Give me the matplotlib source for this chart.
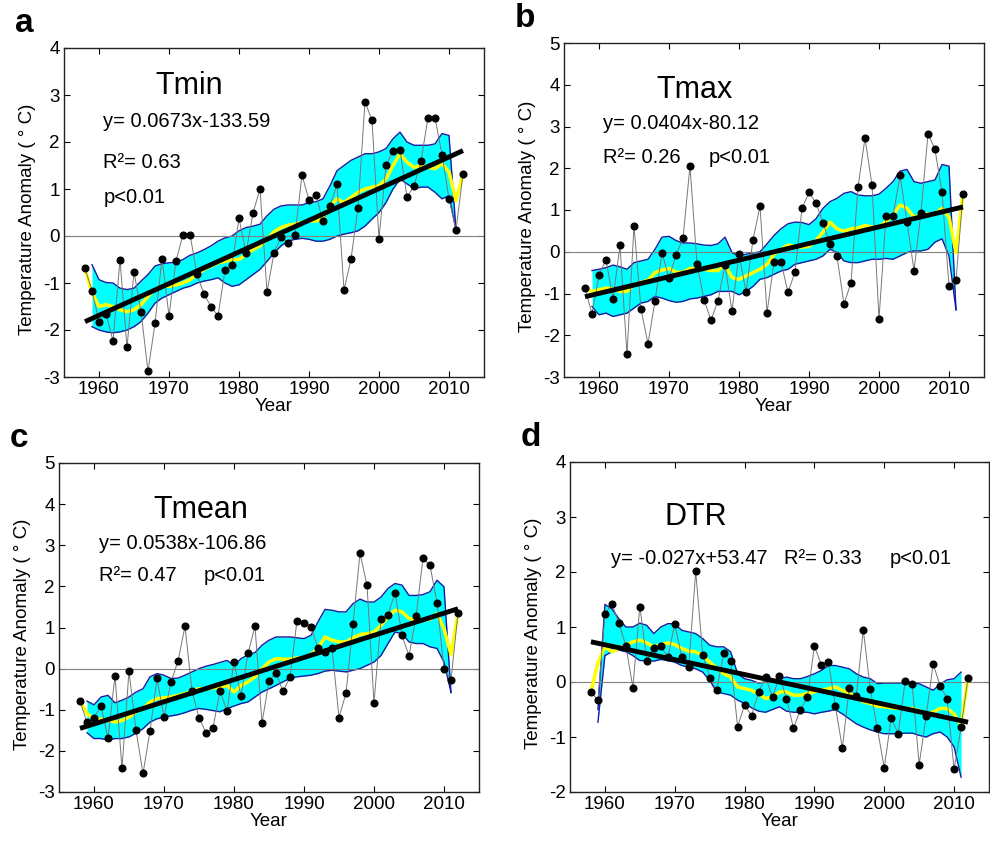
import numpy as np
import matplotlib
matplotlib.use("Agg")
import matplotlib.pyplot as plt

plt.rcParams['font.family'] = ['Liberation Sans', 'DejaVu Sans']
plt.rcParams['axes.unicode_minus'] = False

years = np.arange(1958, 2013)          # data points and yellow smooth
band_years = np.arange(1959, 2012)     # cyan envelope

# ---- Tmin ----
tmin = [-0.69, -1.16, -1.82, -1.66, -2.23, -0.51, -2.37, -0.76, -1.61, -2.88,
        -1.86, -0.48, -1.70, -0.53, 0.03, 0.03, -0.81, -1.24, -1.50, -1.70,
        -0.73, -0.62, 0.38, -0.37, 0.49, 1.00, -1.19, -0.36, -0.02, -0.14,
        0.02, 1.30, 0.76, 0.87, 0.31, 0.64, 1.10, -1.15, -0.49, 0.60,
        2.86, 2.46, -0.06, 1.51, 1.80, 1.84, 0.83, 1.06, 1.59, 2.52,
        2.52, 1.73, 0.79, 0.13, 1.31]
tmin_smooth = [-0.69, -1.21, -1.50, -1.46, -1.50, -1.57, -1.61, -1.57, -1.46, -1.29,
               -1.14, -1.07, -1.07, -1.04, -1.00, -0.93, -0.82, -0.71, -0.64, -0.57,
               -0.54, -0.50, -0.50, -0.39, -0.29, -0.21, -0.07, 0.09, 0.18, 0.23,
               0.25, 0.29, 0.32, 0.32, 0.36, 0.64, 0.79, 0.71, 0.82, 0.93,
               1.00, 1.04, 1.07, 1.21, 1.50, 1.75, 1.57, 1.46, 1.50, 1.46,
               1.43, 1.54, 1.36, 0.75, 1.31]
tmin_upper = [-0.61, -0.93, -0.99, -1.00, -1.11, -1.14, -1.11, -0.96, -0.82, -0.64,
              -0.59, -0.57, -0.56, -0.50, -0.41, -0.36, -0.29, -0.21, -0.11, -0.04,
              0.00, 0.11, 0.18, 0.21, 0.25, 0.43, 0.57, 0.64, 0.66, 0.66,
              0.66, 0.71, 0.73, 0.79, 1.07, 1.39, 1.50, 1.61, 1.68, 1.75,
              1.75, 1.79, 1.86, 2.07, 2.21, 2.00, 1.93, 1.93, 1.93, 1.96,
              2.18, 2.14, 0.13]
tmin_lower = [-1.93, -2.00, -2.04, -2.06, -2.04, -2.00, -1.93, -1.82, -1.64, -1.43,
              -1.32, -1.25, -1.18, -1.11, -1.07, -1.00, -0.96, -0.93, -0.89, -1.00,
              -1.07, -1.04, -0.93, -0.82, -0.71, -0.54, -0.36, -0.21, -0.11, -0.07,
              -0.05, -0.07, -0.11, -0.11, -0.07, 0.00, 0.04, 0.07, 0.11, 0.21,
              0.36, 0.50, 0.71, 1.00, 1.21, 1.11, 1.01, 1.04, 1.04, 0.93,
              0.79, 0.86, 0.13]

# ---- Tmax ----
tmax = [-0.87, -1.49, -0.56, -0.19, -1.13, 0.15, -2.46, 0.62, -1.38, -2.20,
        -1.18, -0.02, -0.64, -0.07, 0.32, 2.05, -0.29, -1.15, -1.64, -1.17,
        -0.32, -1.42, -0.05, -0.97, 0.29, 1.09, -1.46, -0.25, -0.25, -0.97,
        -0.49, 1.04, 1.42, 1.17, 0.69, 0.19, -0.11, -1.25, -0.74, 1.55,
        2.72, 1.60, -1.61, 0.85, 0.85, 1.83, 0.72, -0.45, 0.94, 2.83,
        2.45, 1.43, -0.82, -0.68, 1.38]
tmax_smooth = [-0.87, -0.95, -0.91, -0.87, -0.89, -0.95, -0.95, -0.79, -0.73, -0.68,
               -0.50, -0.44, -0.40, -0.49, -0.49, -0.40, -0.40, -0.42, -0.45, -0.45,
               -0.30, -0.62, -0.66, -0.58, -0.50, -0.42, -0.30, -0.06, 0.06, 0.16,
               0.13, 0.11, 0.13, 0.27, 0.47, 0.71, 0.55, 0.49, 0.55, 0.57,
               0.63, 0.59, 0.59, 0.73, 0.87, 1.12, 1.04, 0.83, 0.87, 0.91,
               0.91, 1.04, 0.83, -0.02, 1.38]
tmax_upper = [-0.45, -0.42, -0.38, -0.32, -0.36, -0.42, -0.26, -0.22, -0.18, 0.06,
              0.35, 0.37, 0.27, 0.21, 0.21, 0.19, 0.16, 0.15, 0.19, 0.35,
              -0.02, -0.10, -0.06, -0.03, 0.00, 0.19, 0.39, 0.55, 0.67, 0.71,
              0.70, 0.65, 0.79, 1.04, 1.20, 1.28, 1.40, 1.44, 1.36, 1.34,
              1.34, 1.38, 1.52, 1.68, 1.93, 1.97, 1.68, 1.64, 1.68, 1.72,
              2.09, 2.05, -1.39]
tmax_lower = [-1.31, -1.51, -1.47, -1.55, -1.51, -1.47, -1.35, -1.23, -1.19, -1.07,
              -1.11, -1.17, -1.21, -1.19, -1.13, -1.11, -1.07, -1.03, -0.95, -0.95,
              -0.95, -1.03, -0.95, -0.83, -0.66, -0.62, -0.54, -0.46, -0.42, -0.30,
              -0.26, -0.22, -0.18, -0.10, 0.06, -0.02, -0.22, -0.26, -0.26, -0.22,
              -0.18, -0.18, -0.16, -0.18, -0.10, -0.02, 0.02, 0.02, 0.06, 0.23,
              0.31, -0.10, -1.39]

# ---- Tmean ----
tmean = [-0.79, -1.31, -1.19, -0.91, -1.69, -0.18, -2.42, -0.06, -1.50, -2.55,
         -1.52, -0.24, -1.18, -0.32, 0.18, 1.03, -0.54, -1.19, -1.56, -1.44,
         -0.54, -1.03, 0.17, -0.67, 0.37, 1.03, -1.32, -0.30, -0.11, -0.55,
         -0.21, 1.17, 1.11, 1.02, 0.50, 0.41, 0.50, -1.19, -0.60, 1.08,
         2.80, 2.03, -0.83, 1.20, 1.31, 1.85, 0.81, 0.31, 1.27, 2.68,
         2.51, 1.60, 0.00, -0.28, 1.35]
tmean_smooth = [-0.79, -1.09, -1.22, -1.23, -1.26, -1.30, -1.26, -1.18, -1.05, -0.97,
                -0.81, -0.73, -0.71, -0.69, -0.65, -0.61, -0.53, -0.49, -0.49, -0.47,
                -0.45, -0.41, -0.57, -0.41, -0.32, -0.20, 0.00, 0.16, 0.24, 0.23,
                0.23, 0.26, 0.26, 0.34, 0.50, 0.77, 0.69, 0.65, 0.65, 0.75,
                0.83, 0.85, 0.89, 1.05, 1.26, 1.42, 1.38, 1.22, 1.18, 1.18,
                1.20, 1.34, 0.97, 0.34, 1.35]
tmean_upper = [-0.79, -0.88, -0.69, -0.65, -0.83, -0.77, -0.69, -0.57, -0.49, -0.20,
               -0.12, -0.16, -0.24, -0.23, -0.16, -0.08, 0.00, 0.06, 0.10, 0.15,
               0.20, 0.08, 0.24, 0.34, 0.39, 0.57, 0.69, 0.77, 0.77, 0.77,
               0.75, 0.73, 0.81, 1.14, 1.44, 1.42, 1.38, 1.38, 1.58, 1.69,
               1.62, 1.62, 1.74, 1.95, 2.07, 2.03, 1.78, 1.78, 1.80, 1.87,
               2.15, 1.99, -0.58]
tmean_lower = [-1.56, -1.70, -1.70, -1.74, -1.70, -1.70, -1.66, -1.57, -1.46, -1.30,
               -1.22, -1.18, -1.15, -1.12, -1.07, -1.01, -0.97, -0.99, -1.02, -1.05,
               -0.97, -0.91, -0.85, -0.81, -0.69, -0.57, -0.49, -0.41, -0.32, -0.24,
               -0.20, -0.18, -0.16, -0.12, -0.06, -0.04, -0.06, -0.08, -0.04, 0.00,
               0.08, 0.16, 0.32, 0.61, 0.89, 0.85, 0.65, 0.61, 0.61, 0.53,
               0.49, 0.16, -0.58]

# ---- DTR ----
dtr = [-0.18, -0.33, 1.24, 1.42, 1.07, 0.66, -0.10, 1.37, 0.39, 0.62,
       0.65, 0.45, 1.05, 0.45, 0.28, 2.01, 0.50, 0.08, -0.15, 0.52,
       0.39, -0.81, -0.42, -0.61, -0.19, 0.09, -0.28, 0.11, -0.30, -0.84,
       -0.50, -0.27, 0.65, 0.31, 0.37, -0.44, -1.20, -0.10, -0.25, 0.95,
       -0.13, -0.84, -1.56, -0.65, -0.94, 0.02, -0.04, -1.50, -0.62, 0.33,
       -0.07, -0.30, -1.59, -0.82, 0.08]
dtr_smooth = [-0.18, 0.35, 0.64, 0.55, 0.61, 0.67, 0.73, 0.76, 0.71, 0.64,
              0.68, 0.71, 0.68, 0.61, 0.56, 0.55, 0.48, 0.36, 0.26, 0.15,
              0.09, -0.09, -0.12, -0.15, -0.22, -0.30, -0.27, -0.18, -0.18, -0.24,
              -0.24, -0.21, -0.18, -0.15, -0.12, -0.09, -0.15, -0.21, -0.28, -0.36,
              -0.39, -0.44, -0.45, -0.47, -0.48, -0.48, -0.48, -0.52, -0.58, -0.55,
              -0.48, -0.48, -0.58, -0.79, 0.08]
dtr_upper = [-0.50, 1.41, 1.33, 1.15, 1.00, 1.00, 1.07, 1.03, 0.88, 1.00,
             1.06, 1.06, 0.94, 0.91, 0.88, 0.79, 0.67, 0.64, 0.64, 0.55,
             0.15, 0.06, 0.03, -0.02, 0.00, 0.00, 0.06, 0.09, 0.06, 0.06,
             0.10, 0.15, 0.21, 0.30, 0.30, 0.27, 0.24, 0.15, 0.09, 0.06,
             -0.03, -0.02, -0.02, -0.02, -0.02, -0.03, -0.03, -0.09, -0.15, -0.04,
             0.04, 0.06, 0.18]
dtr_lower = [-0.73, 0.48, 0.55, 0.58, 0.55, 0.48, 0.39, 0.39, 0.38, 0.41,
             0.39, 0.36, 0.30, 0.27, 0.24, 0.18, 0.03, -0.18, -0.21, -0.24,
             -0.33, -0.39, -0.47, -0.53, -0.55, -0.50, -0.45, -0.53, -0.55, -0.55,
             -0.55, -0.58, -0.55, -0.53, -0.50, -0.58, -0.67, -0.76, -0.82, -0.87,
             -0.91, -0.94, -0.94, -0.94, -0.93, -0.93, -0.97, -1.00, -0.94, -0.91,
             -1.00, -1.18, -1.73]

panels = [
    dict(letter='a', name='Tmin', vals=tmin, smooth=tmin_smooth, up=tmin_upper, lo=tmin_lower,
         ylim=(-3, 4), rect=[64, 48, 484, 377],
         eq='y= 0.0673x-133.59', r2='R\u00b2= 0.63', p='p<0.01',
         name_xy=(1968.0, 3.2), eq_xy=(1960.6, 2.43), r2_xy=(1960.6, 1.57), p_xy=(1960.6, 0.82)),
    dict(letter='b', name='Tmax', vals=tmax, smooth=tmax_smooth, up=tmax_upper, lo=tmax_lower,
         ylim=(-3, 5), rect=[564, 43, 984, 377],
         eq='y= 0.0404x-80.12', r2='R\u00b2= 0.26', p='p<0.01',
         name_xy=(1968.2, 3.87), eq_xy=(1960.6, 3.06), r2_xy=(1960.6, 2.25), p_xy=(1975.6, 2.25)),
    dict(letter='c', name='Tmean', vals=tmean, smooth=tmean_smooth, up=tmean_upper, lo=tmean_lower,
         ylim=(-3, 5), rect=[59, 463, 479, 792],
         eq='y= 0.0538x-106.86', r2='R\u00b2= 0.47', p='p<0.01',
         name_xy=(1968.5, 3.85), eq_xy=(1960.7, 3.04), r2_xy=(1960.7, 2.27), p_xy=(1975.6, 2.27)),
    dict(letter='d', name='DTR', vals=dtr, smooth=dtr_smooth, up=dtr_upper, lo=dtr_lower,
         ylim=(-2, 4), rect=[570, 462, 989, 792],
         eq='y= -0.027x+53.47', r2='R\u00b2= 0.33', p='p<0.01',
         name_xy=(1968.5, 3.0), eq_xy=(1960.8, 2.24), r2_xy=(1985.7, 2.24), p_xy=(2000.8, 2.24)),
]

W, H = 990, 843
fig = plt.figure(figsize=(W / 100, H / 100), dpi=100)

for pn in panels:
    l, t, r, b = pn['rect']
    ax = fig.add_axes([l / W, 1 - b / H, (r - l) / W, (b - t) / H])

    ax.fill_between(band_years, pn['lo'], pn['up'], color='#00ffff', lw=0, zorder=1)
    ax.plot(band_years, pn['up'], color='#1a1aa0', lw=1, zorder=2)
    ax.plot(band_years, pn['lo'], color='#1a1aa0', lw=1, zorder=2)
    ax.plot(years, pn['smooth'], color='#ffff00', lw=2.5, zorder=3)
    ax.axhline(0, color='#808080', lw=0.8, zorder=2.5)
    ax.plot(years, pn['vals'], color='#777777', lw=0.7, marker='o', ms=4.8,
            mfc='black', mec='black', zorder=4)
    k, c0 = np.polyfit(years, pn['vals'], 1)
    ax.plot(years, k * years + c0, color='black', lw=3.5, zorder=5, solid_capstyle='butt')

    ax.set_xlim(1955, 2015)
    ax.set_ylim(*pn['ylim'])
    ax.set_xticks(np.arange(1960, 2011, 10))
    ax.set_yticks(np.arange(pn['ylim'][0], pn['ylim'][1] + 1))
    ax.tick_params(direction='in', top=True, right=True, length=4, labelsize=13.5, pad=3)
    for sp in ax.spines.values():
        sp.set_linewidth(1.0)
        sp.set_color('#222222')

    ax.set_xlabel('Year', fontsize=13.5, labelpad=0)
    ax.text(-0.086, 0.48, 'Temperature Anomaly ( \u00b0 C)', transform=ax.transAxes,
            rotation=90, ha='center', va='center', fontsize=13.5)

    ax.text(*pn['name_xy'], pn['name'], fontsize=22, ha='left', va='center')
    ax.text(*pn['eq_xy'], pn['eq'], fontsize=14.5, ha='left', va='center')
    ax.text(*pn['r2_xy'], pn['r2'], fontsize=14.5, ha='left', va='center')
    ax.text(*pn['p_xy'], pn['p'], fontsize=14.5, ha='left', va='center')

    fig.text((l - 49) / W, 1 - (t - 16) / H, pn['letter'], fontsize=24, fontweight='bold',
             ha='left', va='baseline')

fig.savefig('out.png', dpi=100)
